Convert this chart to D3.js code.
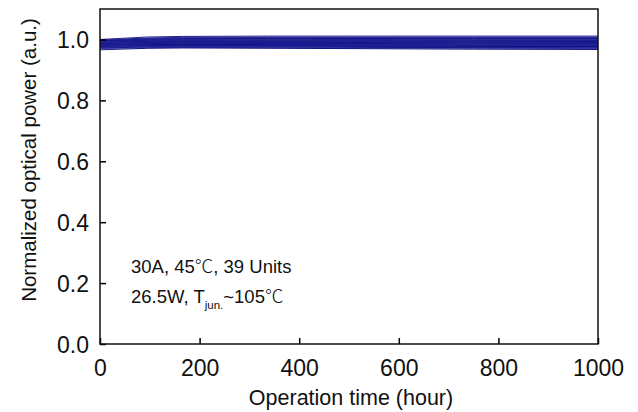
<!DOCTYPE html>
<html>
<head>
<meta charset="utf-8">
<script src="https://cdn.jsdelivr.net/npm/d3@7"></script>
<style>
  body { margin: 0; background: #fff; }
  svg { font-family: "Liberation Sans", Arial, sans-serif; }
</style>
</head>
<body>
<svg id="chart" width="638" height="412"></svg>
<script>
// sample times (hour)
var hours = [0, 96, 168, 336, 500, 750, 1000];

// normalized power of each unit
var units = [
  [1.000, 1.008, 1.010, 1.011, 1.011, 1.011, 1.011],
  [0.998, 1.005, 1.007, 1.008, 1.008, 1.008, 1.008],
  [0.997, 1.003, 1.005, 1.006, 1.006, 1.006, 1.006],
  [0.996, 1.002, 1.004, 1.004, 1.004, 1.004, 1.004],
  [0.995, 1.001, 1.003, 1.003, 1.003, 1.003, 1.003],
  [0.995, 1.000, 1.002, 1.002, 1.001, 1.001, 1.001],
  [0.994, 0.999, 1.000, 1.001, 1.000, 1.000, 1.000],
  [0.993, 0.998, 0.999, 0.999, 0.999, 0.999, 0.999],
  [0.993, 0.997, 0.998, 0.998, 0.998, 0.997, 0.997],
  [0.992, 0.996, 0.997, 0.997, 0.997, 0.996, 0.996],
  [0.991, 0.995, 0.996, 0.996, 0.996, 0.995, 0.995],
  [0.991, 0.994, 0.995, 0.995, 0.995, 0.994, 0.994],
  [0.990, 0.993, 0.994, 0.994, 0.994, 0.993, 0.993],
  [0.990, 0.993, 0.993, 0.993, 0.993, 0.993, 0.992],
  [0.989, 0.992, 0.993, 0.993, 0.992, 0.992, 0.991],
  [0.989, 0.991, 0.992, 0.992, 0.991, 0.991, 0.990],
  [0.988, 0.990, 0.991, 0.991, 0.990, 0.990, 0.989],
  [0.988, 0.990, 0.990, 0.990, 0.990, 0.989, 0.989],
  [0.987, 0.989, 0.990, 0.990, 0.989, 0.988, 0.988],
  [0.987, 0.988, 0.989, 0.989, 0.988, 0.988, 0.987],
  [0.986, 0.988, 0.988, 0.988, 0.988, 0.987, 0.986],
  [0.985, 0.987, 0.988, 0.987, 0.987, 0.986, 0.985],
  [0.985, 0.986, 0.987, 0.987, 0.986, 0.985, 0.985],
  [0.984, 0.986, 0.986, 0.986, 0.985, 0.985, 0.984],
  [0.983, 0.985, 0.986, 0.985, 0.985, 0.984, 0.983],
  [0.983, 0.985, 0.985, 0.985, 0.984, 0.983, 0.982],
  [0.982, 0.984, 0.984, 0.984, 0.983, 0.982, 0.981],
  [0.981, 0.983, 0.984, 0.983, 0.983, 0.982, 0.981],
  [0.980, 0.983, 0.983, 0.983, 0.982, 0.981, 0.980],
  [0.980, 0.982, 0.982, 0.982, 0.981, 0.980, 0.979],
  [0.979, 0.981, 0.982, 0.981, 0.980, 0.979, 0.978],
  [0.978, 0.980, 0.981, 0.980, 0.980, 0.979, 0.978],
  [0.977, 0.979, 0.980, 0.980, 0.979, 0.978, 0.977],
  [0.976, 0.978, 0.979, 0.979, 0.978, 0.977, 0.976],
  [0.975, 0.977, 0.978, 0.977, 0.977, 0.976, 0.975],
  [0.974, 0.976, 0.977, 0.976, 0.975, 0.974, 0.973],
  [0.972, 0.975, 0.975, 0.975, 0.974, 0.973, 0.972],
  [0.970, 0.973, 0.974, 0.973, 0.972, 0.971, 0.970],
  [0.966, 0.971, 0.972, 0.971, 0.970, 0.968, 0.967]
];

var xTicks = [0, 200, 400, 600, 800, 1000];
var yTicks = [0.0, 0.2, 0.4, 0.6, 0.8, 1.0];

var svg = d3.select("#chart");
var margin = {left: 100, right: 40, top: 9, bottom: 68};
var W = 638, H = 412;
var cjk = "'Noto Sans CJK SC', sans-serif";

var x = d3.scaleLinear().domain([0, 1000]).range([margin.left, W - margin.right]);
var y = d3.scaleLinear().domain([0, 1.1]).range([H - margin.bottom, margin.top]);

// data lines
var line = d3.line().x((d, i) => x(hours[i])).y(d => y(d));
var lineColors = ["#000080", "#2a2a9c", "#000078", "#4646aa"];
svg.append("g").attr("class", "units")
  .selectAll("path")
  .data(units).enter().append("path")
  .attr("d", line)
  .attr("fill", "none")
  .attr("stroke", (d, i) => lineColors[i % lineColors.length])
  .attr("stroke-width", 0.9);

// axes with inward ticks
var xAxis = svg.append("g")
  .attr("transform", "translate(0," + y(0) + ")")
  .call(d3.axisBottom(x).tickValues(xTicks).tickFormat(d3.format("d")).tickSizeInner(-6).tickSizeOuter(0).tickPadding(15));
var yAxis = svg.append("g")
  .attr("transform", "translate(" + x(0) + ",0)")
  .call(d3.axisLeft(y).tickValues(yTicks).tickFormat(d3.format(".1f")).tickSizeInner(-6).tickSizeOuter(0).tickPadding(11));

[xAxis, yAxis].forEach(a => {
  a.select(".domain").remove();
  a.selectAll("line").attr("stroke", "#000").attr("stroke-width", 1.5);
  a.selectAll("text").attr("font-size", 23).attr("fill", "#111")
    .attr("font-family", "'Liberation Sans', Arial, sans-serif");
});
yAxis.selectAll("text").attr("dy", "0.36em");
xAxis.selectAll("text").attr("dy", "0.74em");

// frame
svg.append("rect")
  .attr("x", x(0)).attr("y", y(1.1))
  .attr("width", x(1000) - x(0)).attr("height", y(0) - y(1.1))
  .attr("fill", "none").attr("stroke", "#111").attr("stroke-width", 1.5);

// axis titles
svg.append("text")
  .attr("x", (x(0) + x(1000)) / 2 + 2).attr("y", 405)
  .attr("text-anchor", "middle").attr("font-size", 21.5).attr("fill", "#111")
  .text("Operation time (hour)");
svg.append("text")
  .attr("transform", "translate(36," + 160 + ") rotate(-90)")
  .attr("text-anchor", "middle").attr("font-size", 20.5).attr("fill", "#111")
  .text("Normalized optical power (a.u.)");

// annotation
var t1 = svg.append("text")
  .attr("x", 131).attr("y", 273).attr("font-size", 18.5).attr("fill", "#111");
t1.append("tspan").text("30A, 45");
t1.append("tspan").attr("font-family", cjk).attr("font-weight", 300).text("\u2103");
t1.append("tspan").text(", 39 Units");

var t2 = svg.append("text")
  .attr("x", 131).attr("y", 303).attr("font-size", 18.5).attr("fill", "#111");
t2.append("tspan").text("26.5W, T");
t2.append("tspan").attr("font-size", 11.5).attr("dy", 6).text("jun.");
t2.append("tspan").attr("dy", -6).text("~105");
t2.append("tspan").attr("font-family", cjk).attr("font-weight", 300).text("\u2103");
</script>
</body>
</html>
